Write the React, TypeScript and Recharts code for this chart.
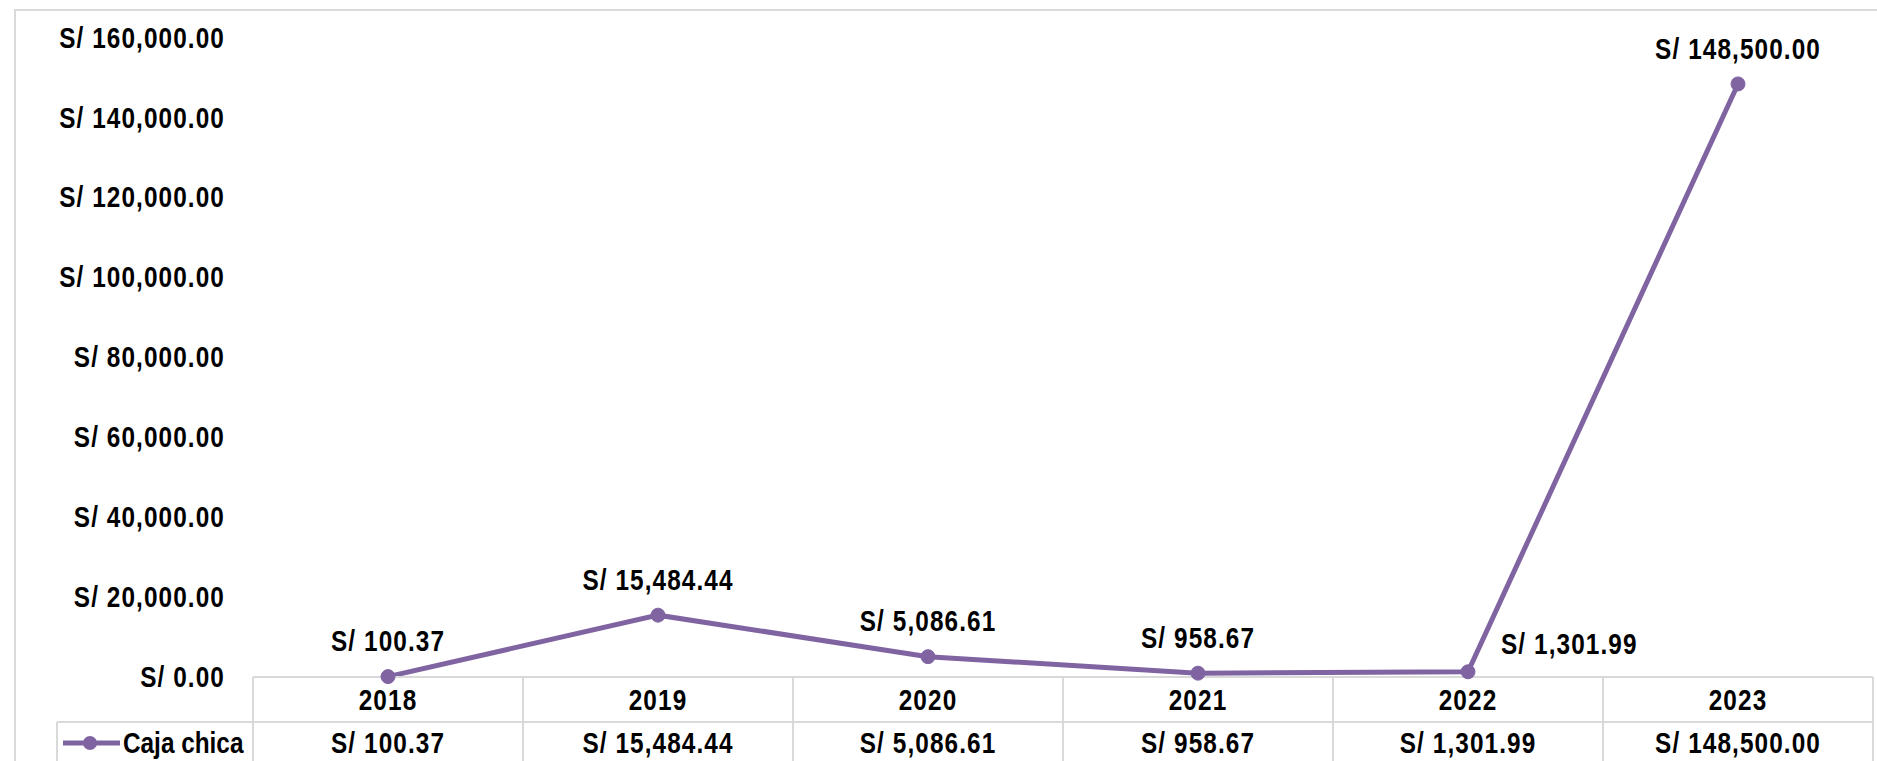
import { LineChart, Line, XAxis, YAxis } from "recharts";

const categories = ["2018", "2019", "2020", "2021", "2022", "2023"];
const cajaChica = [100.37, 15484.44, 5086.61, 958.67, 1301.99, 148500.0];
const yTicks = [0, 20000, 40000, 60000, 80000, 100000, 120000, 140000, 160000];
const seriesName = "Caja chica";
// labels Excel pushed to the right of the point instead of above it
const labelsRight = ["2022"];

const data = categories.map((year, i) => ({ year, value: cajaChica[i] }));

const W = 1877;
const H = 761;
const LEFT = 253;
const RIGHT = 4;
const TOP = 38;
const X_AXIS_H = 84;
const PLOT_W = W - LEFT - RIGHT;
const AXIS_Y = H - X_AXIS_H;
const ROW_Y = AXIS_Y + 45;
const LEGEND_X = 57;
const GRID = "#d9d9d9";
const PURPLE = "#8064a2";
const FONT = "'Liberation Sans', Arial, sans-serif";
const FS = 29;
const SQUEEZE = 0.84;

const fmt = (v: number) =>
  "S/ " + v.toLocaleString("en-US", { minimumFractionDigits: 2, maximumFractionDigits: 2 });

// narrow bold text (stand-in for Arial Narrow)
function T({ x, y, anchor = "middle", spacing = 1.3, children }: any) {
  return (
    <text
      transform={`translate(${x} ${y}) scale(${SQUEEZE} 1)`}
      x={0}
      y={0}
      textAnchor={anchor}
      dominantBaseline="central"
      fontFamily={FONT}
      fontSize={FS}
      fontWeight={700}
      letterSpacing={spacing}
      fill="#000"
    >
      {children}
    </text>
  );
}

function YTick(props: any) {
  const { y, payload } = props;
  return (
    <T x={225} y={y} anchor="end">
      {fmt(payload.value)}
    </T>
  );
}

function CategoryCell(props: any) {
  const { x, payload, index } = props;
  const cw = PLOT_W / categories.length;
  const left = x - cw / 2;
  const last = index === categories.length - 1;
  return (
    <g>
      <line x1={left} x2={left} y1={AXIS_Y} y2={H} stroke={GRID} strokeWidth={2} />
      {last && <line x1={left + cw} x2={left + cw} y1={AXIS_Y} y2={H} stroke={GRID} strokeWidth={2} />}
      <line x1={left} x2={left + cw} y1={ROW_Y} y2={ROW_Y} stroke={GRID} strokeWidth={2} />
      <T x={x} y={(AXIS_Y + ROW_Y) / 2 + 1}>{payload.value}</T>
      <T x={x} y={ROW_Y + 21}>{fmt(cajaChica[index])}</T>
      {index === 0 && (
        <g>
          <line x1={LEGEND_X} x2={left} y1={ROW_Y} y2={ROW_Y} stroke={GRID} strokeWidth={2} />
          <line x1={LEGEND_X} x2={LEGEND_X} y1={ROW_Y} y2={H} stroke={GRID} strokeWidth={2} />
          <line x1={63} x2={120} y1={ROW_Y + 21} y2={ROW_Y + 21} stroke={PURPLE} strokeWidth={5} />
          <circle cx={90} cy={ROW_Y + 21} r={7} fill={PURPLE} />
          <T x={123} y={ROW_Y + 21} anchor="start" spacing={0}>
            {seriesName}
          </T>
        </g>
      )}
    </g>
  );
}

function PointLabel(props: any) {
  const { x, y, value, index } = props;
  const right = labelsRight.includes(categories[index]);
  return (
    <T x={right ? x + 33 : x} y={right ? y - 28 : y - 35} anchor={right ? "start" : "middle"}>
      {fmt(value)}
    </T>
  );
}

export default function App() {
  return (
    <div style={{ position: "fixed", left: 0, top: 0, width: W, height: H, background: "#fff", overflow: "hidden" }}>
      <div
        style={{
          position: "absolute",
          left: 14,
          top: 9,
          width: W,
          height: H + 40,
          border: `2px solid ${GRID}`,
        }}
      />
      <div style={{ position: "absolute", left: 0, top: 0 }}>
        <LineChart width={W} height={H} data={data} margin={{ top: TOP, right: RIGHT, bottom: 0, left: 0 }}>
          <XAxis
            dataKey="year"
            scale="band"
            height={X_AXIS_H}
            interval={0}
            axisLine={{ stroke: GRID, strokeWidth: 2 }}
            tickLine={false}
            tick={CategoryCell}
          />
          <YAxis
            width={LEFT}
            domain={[0, 160000]}
            ticks={yTicks}
            axisLine={false}
            tickLine={false}
            tick={YTick}
          />
          <Line
            type="linear"
            dataKey="value"
            stroke={PURPLE}
            strokeWidth={5}
            dot={{ r: 7, fill: PURPLE, stroke: PURPLE, strokeWidth: 1 }}
            activeDot={false}
            label={PointLabel}
            isAnimationActive={false}
          />
        </LineChart>
      </div>
    </div>
  );
}
